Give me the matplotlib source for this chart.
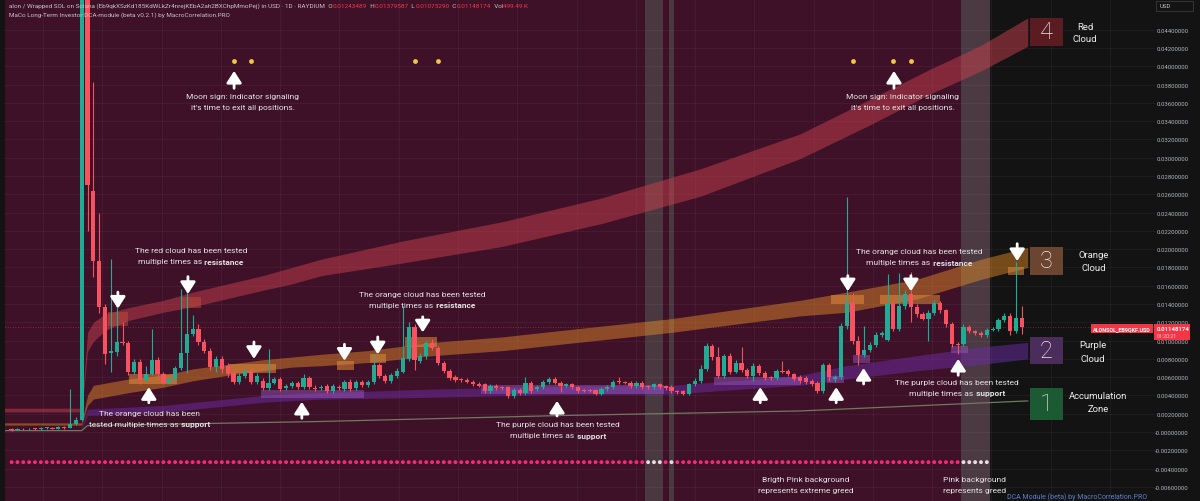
import numpy as np
import matplotlib.pyplot as plt
from matplotlib.patches import Rectangle
from matplotlib.ticker import FixedLocator, FuncFormatter

plt.rcParams['font.family'] = ['Roboto', 'DejaVu Sans']

# daily candles, prices in thousandths of a USD
opens = [0.30, 0.25, 0.32, 0.28, 0.36, 0.30, 0.40, 0.45, 0.38, 0.52, 0.45, 0.88, 1.31, 62.0, 26.4,
         18.7, 13.7, 8.6, 8.8, 9.85, 9.7, 6.6, 7.7, 5.7, 6.35, 7.9, 6.35, 5.36, 5.8, 7.0,
         8.65, 10.7, 11.3, 9.8, 8.9, 7.1, 8.0, 7.2, 6.5, 5.47, 6.13, 6.67, 5.5, 5.6, 4.8,
         5.4, 5.8, 4.8, 5.0, 5.4, 4.9, 5.9, 4.85, 4.8, 5.0, 4.5, 4.9, 4.7, 5.5, 4.8,
         5.5, 5.1, 5.5, 7.33, 6.1, 5.6, 6.1, 6.6, 8.0, 11.5, 7.8, 8.3, 9.7, 9.2, 7.55,
         6.7, 6.0, 5.75, 5.7, 5.5, 5.3, 5.2, 4.5, 5.0, 4.85, 4.9, 3.9, 4.6, 4.3, 5.4,
         4.7, 4.9, 5.45, 5.8, 5.4, 5.0, 5.2, 4.9, 4.6, 4.6, 4.6, 4.2, 4.7, 4.9, 5.55,
         5.5, 5.4, 5.0, 5.4, 4.95, 4.9, 5.2, 5.0, 4.9, 4.5, 4.5, 4.2, 5.2, 5.6, 6.9,
         9.44, 8.2, 6.1, 8.3, 6.6, 7.5, 6.8, 6.1, 7.2, 6.5, 5.95, 5.9, 6.65, 6.7, 6.3,
         6.0, 5.9, 5.6, 5.4, 4.5, 7.33, 5.8, 6.0, 11.63, 14.11, 10.0, 8.4, 9.0, 9.5, 10.6,
         10.1, 14.0, 11.3, 13.8, 15.1, 13.7, 12.9, 12.4, 13.0, 14.1, 13.3, 11.8, 9.55, 9.6, 11.45,
         11.0, 10.8, 10.6, 11.2, 11.3, 12.2, 12.7, 11.0, 12.43]
closes = [0.25, 0.32, 0.28, 0.36, 0.30, 0.40, 0.45, 0.38, 0.52, 0.45, 0.88, 1.31, 62.0, 27.0, 18.7,
          13.7, 8.5, 8.9, 9.8, 9.75, 6.6, 7.7, 5.7, 6.35, 7.9, 6.35, 5.36, 5.8, 7.0, 8.65,
          10.7, 11.3, 9.8, 8.9, 7.1, 8.0, 6.9, 6.35, 5.45, 6.13, 6.67, 5.5, 6.13, 4.8, 5.4,
          5.8, 4.7, 5.0, 5.4, 4.9, 5.9, 4.9, 4.75, 4.9, 4.5, 5.0, 4.8, 5.5, 4.7, 5.5,
          5.1, 5.5, 7.33, 6.1, 5.6, 6.2, 6.7, 8.1, 11.5, 7.9, 8.3, 9.7, 9.2, 7.55, 6.7,
          5.9, 5.7, 5.7, 5.5, 5.2, 5.0, 4.5, 5.0, 4.8, 4.8, 3.9, 4.6, 4.3, 5.4, 4.5,
          4.9, 5.45, 5.8, 5.4, 5.0, 5.2, 4.9, 4.5, 4.5, 4.5, 4.2, 4.7, 4.9, 5.5, 5.5,
          5.4, 5.0, 5.4, 4.9, 4.9, 5.2, 4.9, 4.8, 4.5, 4.4, 4.2, 5.2, 5.6, 6.9, 9.44,
          8.2, 6.1, 8.3, 6.6, 7.6, 6.8, 6.1, 7.2, 6.4, 5.9, 5.9, 6.7, 6.6, 6.3, 5.8,
          5.6, 5.5, 5.2, 4.5, 7.33, 6.0, 6.0, 11.63, 14.11, 10.0, 8.4, 9.0, 9.5, 10.6, 10.8,
          14.0, 11.3, 13.8, 15.1, 13.7, 12.9, 12.4, 13.0, 14.1, 13.3, 11.8, 9.6, 9.5, 11.45, 11.0,
          10.8, 10.6, 11.2, 11.3, 12.2, 12.7, 11.0, 12.5, 11.48]
highs = [0.45, 0.40, 0.42, 0.45, 0.48, 0.52, 0.60, 0.55, 0.70, 0.65, 4.70, 1.60, 66.0, 63.0, 38.3,
         24.0, 14.0, 18.9, 13.7, 12.0, 10.0, 8.0, 8.0, 7.25, 11.3, 8.2, 6.6, 6.0, 7.2, 15.6,
         17.0, 12.8, 11.8, 10.2, 9.2, 8.3, 8.3, 7.5, 6.8, 6.4, 6.9, 6.9, 6.4, 5.9, 9.1,
         6.0, 6.0, 5.3, 5.6, 5.6, 6.3, 6.1, 5.1, 5.1, 5.2, 5.2, 5.1, 5.7, 5.8, 5.7,
         5.7, 5.7, 8.5, 7.6, 6.3, 6.4, 7.0, 13.8, 12.0, 11.8, 8.6, 10.0, 10.2, 9.4, 7.8,
         6.9, 6.2, 5.9, 5.9, 5.7, 5.5, 5.4, 5.2, 5.2, 5.0, 5.0, 4.8, 4.8, 6.0, 5.6,
         5.1, 5.7, 6.0, 6.0, 5.6, 5.4, 5.4, 5.0, 4.7, 4.7, 4.7, 4.9, 5.1, 5.7, 6.0,
         5.6, 5.6, 5.6, 5.6, 5.1, 5.4, 5.4, 5.1, 5.1, 4.6, 4.6, 5.4, 5.9, 7.3, 9.7,
         9.6, 9.3, 8.5, 8.6, 7.9, 9.3, 7.0, 7.5, 7.4, 6.7, 6.1, 6.9, 7.8, 6.9, 6.5,
         6.2, 6.1, 5.8, 5.6, 7.5, 7.6, 6.2, 11.9, 25.7, 15.2, 10.5, 11.6, 9.8, 10.9, 11.0,
         17.3, 14.3, 17.4, 15.5, 17.5, 14.0, 13.1, 13.3, 14.4, 14.3, 13.5, 12.0, 9.8, 11.8, 11.7,
         11.2, 11.0, 11.4, 11.5, 12.5, 13.0, 13.0, 18.6, 13.8]
lows = [0.15, 0.18, 0.20, 0.22, 0.24, 0.25, 0.32, 0.30, 0.33, 0.38, 0.40, 0.80, 1.20, 22.0, 17.0,
        13.0, 7.4, 6.6, 8.3, 9.5, 6.2, 6.3, 5.2, 5.5, 6.2, 6.0, 5.2, 5.2, 5.6, 6.8,
        6.5, 10.5, 9.5, 8.6, 6.8, 6.6, 6.5, 6.0, 5.2, 5.3, 5.9, 5.3, 5.3, 4.6, 4.6,
        5.2, 4.5, 4.6, 4.8, 4.7, 4.7, 4.7, 4.5, 4.6, 4.3, 4.3, 4.6, 4.5, 4.5, 4.6,
        4.9, 4.9, 5.3, 5.9, 5.4, 5.4, 5.9, 6.4, 7.8, 6.8, 7.5, 8.0, 9.0, 7.3, 6.5,
        5.7, 5.5, 5.5, 5.4, 5.0, 4.9, 4.3, 4.3, 4.6, 4.6, 3.7, 3.7, 4.1, 4.1, 4.3,
        4.5, 4.7, 5.3, 5.2, 4.4, 4.9, 4.7, 4.3, 4.4, 4.4, 4.0, 4.0, 4.5, 4.7, 5.3,
        5.2, 4.8, 4.8, 4.7, 4.7, 4.7, 4.7, 4.6, 4.3, 4.2, 4.0, 4.0, 5.0, 5.4, 6.7,
        7.9, 5.9, 5.9, 6.3, 6.4, 6.6, 5.9, 5.6, 6.2, 5.7, 5.7, 5.7, 6.4, 6.1, 5.6,
        5.4, 5.3, 5.0, 4.3, 4.3, 5.6, 5.5, 5.8, 11.3, 9.6, 7.3, 8.2, 8.8, 9.3, 10.4,
        9.9, 11.0, 11.0, 13.5, 12.0, 12.6, 12.2, 10.0, 12.8, 13.0, 11.5, 9.3, 8.5, 9.4, 10.8,
        10.6, 10.4, 10.4, 11.0, 11.1, 12.0, 10.6, 10.8, 10.75]

# indicator clouds (bar index, upper, lower)
red_idx = [-1.2, 12, 13, 14, 16, 20, 26, 31, 37, 43, 48, 53, 67, 84, 101, 118, 135, 147, 157, 166, 174]
red_hi = [2.6, 2.6, 10.9, 12.0, 12.9, 13.6, 14.4, 15.3, 16.2, 17.1, 18.0, 18.9, 20.9, 23.0, 25.6, 28.8, 32.6, 36.4, 39.6, 42.3, 45.3]
red_lo = [2.2, 2.2, 8.8, 9.9, 11.1, 12.2, 13.1, 13.7, 14.6, 15.5, 16.2, 17.1, 18.5, 20.3, 22.8, 25.8, 29.9, 33.6, 36.9, 39.5, 42.2]
orange_idx = [-1.2, 12, 13, 14, 20, 26, 31, 37, 43, 48, 53, 61, 72, 84, 94, 113, 135, 143, 155, 166, 174]
orange_hi = [1.0, 1.0, 4.0, 5.1, 5.8, 6.2, 6.9, 7.4, 7.9, 8.2, 8.5, 8.9, 9.8, 10.4, 11.1, 12.4, 14.4, 15.3, 16.7, 18.9, 20.2]
orange_lo = [0.75, 0.75, 2.9, 3.6, 4.3, 4.9, 5.6, 6.2, 6.7, 7.1, 7.25, 7.6, 8.35, 8.9, 9.6, 10.9, 12.7, 13.1, 14.55, 16.7, 18.0]
purple_idx = [12, 13, 26, 43, 53, 72, 94, 113, 132, 135, 143, 155, 166, 174]
purple_hi = [0.5, 2.5, 2.9, 4.0, 4.3, 4.7, 5.0, 5.1, 6.0, 6.2, 7.25, 8.35, 9.3, 9.8]
purple_lo = [0.3, 1.8, 2.15, 3.25, 3.6, 3.8, 4.1, 4.15, 5.0, 5.1, 5.8, 6.7, 7.4, 8.0]
accum_idx = [-1.2, 12, 13, 53, 94, 135, 174]
accum_val = [0.15, 0.15, 0.7, 1.15, 1.8, 2.3, 3.4]

# tested zones (bar from, bar to, low, high)
red_zones = [(16.5, 19.9, 11.6, 13.1), (29.0, 32.4, 13.6, 14.8)]
orange_zones = [(20.1, 28.4, 5.3, 6.3), (37.0, 45.3, 6.5, 7.4), (55.8, 58.6, 6.8, 7.8),
                (61.3, 64.1, 7.6, 8.5), (67.4, 72.9, 9.3, 10.4), (140.3, 145.9, 14.0, 15.0),
                (148.7, 159.0, 14.0, 15.0), (170.7, 173.4, 17.2, 18.1)]
purple_zones = [(42.7, 60.3, 3.7, 4.6), (80.4, 111.7, 4.2, 5.1), (120.3, 135.2, 5.1, 6.0),
                (139.7, 142.6, 5.4, 6.1), (144.0, 147.0, 7.6, 8.4), (160.8, 163.8, 8.6, 9.4)]

moon_bars = [38, 41, 69, 73, 144, 151, 154]
moon_level = 40.6
signal_bars = list(range(0, 168))
extreme_greed_bars = [109, 110, 111, 113]
greed_bars = [163, 164, 165, 166, 167]
dot_level = -3.3

price_ticks = [44, 42, 40, 38, 36, 34, 32, 30, 28, 26, 24, 22, 20, 18, 16, 14, 12, 10, 8, 6, 4, 2, 0, -2, -4, -6]

down_arrows = [(18.2, 15.3, 13.5), (30.2, 17.0, 15.1), (41.5, 9.85, 8.0), (57.0, 9.6, 7.8),
               (62.7, 10.4, 8.5), (70.4, 12.6, 10.9), (143.2, 17.1, 15.4), (154.0, 17.1, 15.4),
               (172.2, 20.6, 18.7)]
up_arrows = [(23.5, 3.2, 4.9), (49.7, 1.5, 3.3), (93.4, 1.75, 3.4), (128.2, 3.2, 4.9),
             (141.2, 3.2, 4.9), (145.9, 5.25, 7.0), (162.1, 6.2, 8.0), (38.1, 37.6, 39.5),
             (151.1, 37.6, 39.5)]

notes = [
    (39.6, 36.8, "Moon sign: Indicator signaling"),
    (39.6, 35.55, "it's time to exit all positions."),
    (152.6, 36.8, "Moon sign: Indicator signaling"),
    (152.6, 35.55, "it's time to exit all positions."),
    (30.7, 19.9, "The red cloud has been tested"),
    (30.7, 18.7, "multiple times as** resistance**"),
    (70.3, 15.1, "The orange cloud has been tested"),
    (70.3, 13.9, "multiple times as** resistance**"),
    (23.6, 2.1, "The orange cloud has been"),
    (23.6, 0.88, "tested multiple times as** support**"),
    (93.6, 0.88, "The purple cloud has been tested"),
    (93.6, -0.33, "multiple times as** support**"),
    (155.4, 19.75, "The orange cloud has been tested"),
    (155.4, 18.55, "multiple times as** resistance**"),
    (161.9, 5.45, "The purple cloud has been tested"),
    (161.9, 4.27, "multiple times as** support**"),
    (136.0, -5.14, "Brigth Pink background"),
    (136.0, -6.35, "represents extreme greed"),
    (164.9, -5.14, "Pink background"),
    (164.9, -6.35, "represents greed"),
]

legend_boxes = [("4", "Red", "Cloud", 19, 47, '#5a1c20', 1085),
                ("3", "Orange", "Cloud", 248, 276, '#6b4530', 1094),
                ("2", "Purple", "Cloud", 338, 365, '#4b2d5b', 1093),
                ("1", "Accumulation", "Zone", 389, 421, '#1b5a33', 1098)]

W, H = 1200, 502
fig = plt.figure(figsize=(12, 5.02), dpi=100, facecolor='#131313')
renderer = fig.canvas.get_renderer()
ax = fig.add_axes([5 / W, 0, 1150 / W, 1])
ax.set_facecolor('#131313')
ax.set_xlim(-1.13, 195.8)
ax.set_ylim(-7.55, 47.37)
for s in ax.spines.values():
    s.set_visible(False)

# background by bar
ax.axvspan(-1.13, 167.5, color='#3e1128', lw=0, zorder=0)
for b in extreme_greed_bars:
    ax.axvspan(b - 0.5, b + 0.5, color='#4a3840', lw=0, zorder=0.5)
for b in greed_bars:
    ax.axvspan(b - 0.5, b + 0.5, color='#4c3a43', lw=0, zorder=0.5)

# grid
ax.xaxis.set_major_locator(FixedLocator(np.arange(5.4, 196, 10.15)))
ax.yaxis.set_major_locator(FixedLocator(price_ticks))
ax.grid(True, color='white', alpha=0.045, lw=0.7, zorder=0.6)
ax.tick_params(axis='x', length=0, labelbottom=False)
ax.yaxis.tick_right()
ax.yaxis.set_major_formatter(FuncFormatter(
    lambda v, p: f"{v / 1000:.8f}" if v > 0 else "-" + f"{abs(v) / 1000:.8f}"))
ax.tick_params(axis='y', length=0, labelsize=4.3, labelcolor='#b2b5be', pad=24)
for lbl in ax.get_yticklabels():
    lbl.set_horizontalalignment('right')

# clouds
ax.fill_between(red_idx, red_lo, red_hi, color='#c8404c', alpha=0.5, lw=0, zorder=2)
ax.fill_between(orange_idx, orange_lo, orange_hi, color='#e68c28', alpha=0.47, lw=0, zorder=2)
ax.fill_between(purple_idx, purple_lo, purple_hi, color='#6c2ca6', alpha=0.5, lw=0, zorder=2)
ax.plot(accum_idx, accum_val, color='#6f7a60', lw=0.9, zorder=2)

for x0, x1, lo, hi in red_zones:
    ax.add_patch(Rectangle((x0, lo), x1 - x0, hi - lo, facecolor='#c8503c', alpha=0.45, lw=0, zorder=3))
for x0, x1, lo, hi in orange_zones:
    ax.add_patch(Rectangle((x0, lo), x1 - x0, hi - lo, facecolor='#e08a3c', alpha=0.55, lw=0, zorder=3))
for x0, x1, lo, hi in purple_zones:
    ax.add_patch(Rectangle((x0, lo), x1 - x0, hi - lo, facecolor='#9b5bc4', alpha=0.45, lw=0, zorder=3))

# candles
up_c, dn_c = '#22ab94', '#f7525f'
bars = np.arange(len(opens))
cols = [up_c if c >= o else dn_c for o, c in zip(opens, closes)]
ax.vlines(bars, lows, highs, colors=cols, lw=0.8, zorder=5)
for i, (o, c) in enumerate(zip(opens, closes)):
    ax.add_patch(Rectangle((i - 0.36, min(o, c)), 0.72, max(abs(c - o), 0.1),
                           facecolor=cols[i], lw=0, zorder=6))

# last price line
ax.axhline(closes[-1], color='#f23645', lw=0.6, ls=(0, (1, 2)), alpha=0.6, zorder=4)

# signal dots
dot_cols = ['#e8dce2' if b in extreme_greed_bars or b in greed_bars else '#f7277a' for b in signal_bars]
ax.scatter(signal_bars, [dot_level] * len(signal_bars), s=8, c=dot_cols, lw=0, zorder=6)
ax.scatter(moon_bars, [moon_level] * len(moon_bars), s=12, c='#f5c542', lw=0, zorder=6)

# arrows
for x, y0, y1 in down_arrows + up_arrows:
    ax.annotate("", xy=(x, y1), xytext=(x, y0),
                arrowprops=dict(arrowstyle='-|>,head_length=0.7,head_width=0.45', color='white',
                                lw=2.0, shrinkA=0, shrinkB=0, mutation_scale=10), zorder=8)


def rich_text(x, y, s, size=6, color='#e4e4e4'):
    # text with **bold** parts, centred on (x, y)
    objs = []
    for k, seg in enumerate(s.split('**')):
        if not seg:
            continue
        t = ax.annotate(seg, xy=(x, y), xytext=(0, 0), textcoords='offset pixels', fontsize=size,
                        color=color, fontweight='bold' if k % 2 else 'normal',
                        ha='left', va='center', zorder=9)
        objs.append(t)
    widths = [t.get_window_extent(renderer).width for t in objs]
    off = -sum(widths) / 2
    for t, w in zip(objs, widths):
        t.xyann = (off, 0)
        off += w


for x, y, s in notes:
    rich_text(x, y, s)


def fx(px):
    return px / W


def fy(py):
    return 1 - py / H


# legend boxes on the right
for num, l1, l2, y0, y1, col, cx in legend_boxes:
    fig.add_artist(Rectangle((fx(1030), fy(y1)), 33 / W, (y1 - y0) / H, facecolor=col,
                             lw=0, transform=fig.transFigure, zorder=5))
    fig.text(fx(1046.5), fy((y0 + y1) / 2), num, color='#f2e6e6', fontsize=17, fontweight='light',
             ha='center', va='center', zorder=6)
    fig.text(fx(cx), fy(y0 + 8), l1, color='#eeeeee', fontsize=6.8, ha='center', va='center', zorder=6)
    fig.text(fx(cx), fy(y0 + 21), l2, color='#eeeeee', fontsize=6.8, ha='center', va='center', zorder=6)

# price tags
fig.add_artist(Rectangle((fx(1091), fy(333.5)), 62 / W, 8.5 / H, facecolor='#f23645', lw=0,
                         transform=fig.transFigure, zorder=5))
fig.text(fx(1122), fy(329.2), "ALONSOL_EB9QKF.USD", color='white', fontsize=3.9, fontweight='bold',
         ha='center', va='center', zorder=6)
fig.add_artist(Rectangle((fx(1154), fy(341)), 36 / W, 16 / H, facecolor='#f23645', lw=0,
                         transform=fig.transFigure, zorder=5))
fig.text(fx(1157), fy(329.2), "0.01148174", color='white', fontsize=4.3, fontweight='bold',
         ha='left', va='center', zorder=6)
fig.text(fx(1157), fy(337), "01:20:21", color='#ffd0d6', fontsize=3.9, ha='left', va='center', zorder=6)

# USD box
fig.add_artist(Rectangle((fx(1156), fy(11.7)), 37 / W, 10 / H, facecolor='#131313', edgecolor='#3a3a3a',
                         lw=0.6, transform=fig.transFigure, zorder=5))
fig.text(fx(1160), fy(6.7), "USD", color='#c8c8c8', fontsize=4.3, ha='left', va='center', zorder=6)


# header
def text_run(x_px, y_px, pieces, size):
    x = x_px
    for s, col in pieces:
        t = fig.text(fx(x), fy(y_px), s, color=col, fontsize=size, ha='left', va='center', zorder=6)
        x += t.get_window_extent(renderer).width


grey, red = '#c3c3c8', '#f23645'
text_run(9, 6, [("alon / Wrapped SOL on Solana (Eb9qkXSzKd185KdWLkZr4nrejKEbA2ah2BXChpMmoPej) in USD · 1D · RAYDIUM", grey),
                ("  O", grey), ("0.01243489", red), ("  H", grey), ("0.01379587", red),
                ("  L", grey), ("0.01075290", red), ("  C", grey), ("0.01148174", red),
                ("  Vol", grey), ("499.49 K", red)], 4.6)
text_run(9, 15, [("MaCo Long-Term Investor DCA-module (beta v0.2.1) by MacroCorrelation.PRO", grey)], 4.6)

fig.text(fx(1147), fy(497), "DCA Module (beta) by MacroCorrelation.PRO", color='#5d7ecb', fontsize=5,
         ha='right', va='center', zorder=6)

fig.savefig('out.png', dpi=100, facecolor=fig.get_facecolor())
